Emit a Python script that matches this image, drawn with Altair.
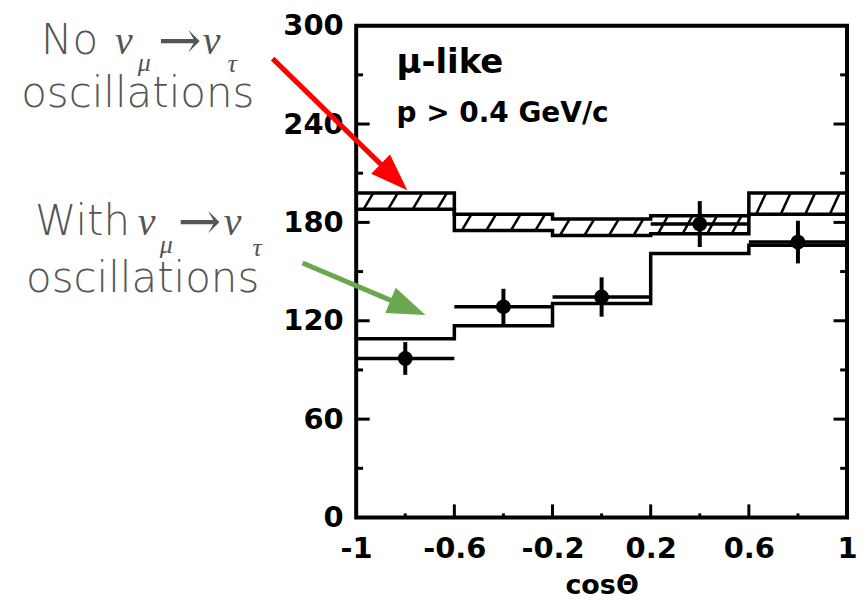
import altair as alt
import pandas as pd

# ---------------- data ----------------
edges = [-1.0, -0.6, -0.2, 0.2, 0.6, 1.0]
centers = [-0.8, -0.4, 0.0, 0.4, 0.8]
no_osc_hi = [198, 185, 182, 184, 198]      # hatched band (no oscillation MC), upper edge
no_osc_lo = [188, 175, 172, 173, 185]      # hatched band, lower edge
with_osc = [109, 117, 130.5, 161, 166]     # MC with nu_mu -> nu_tau oscillations
data_val = [97, 128.5, 134.5, 179, 168]    # measured points
data_err = [10, 11, 12, 14, 13]

x_tick_values = [-1, -0.6, -0.2, 0.2, 0.6, 1]
y_tick_values = [0, 60, 120, 180, 240, 300]
x_major_inner = [-0.6, -0.2, 0.2, 0.6]
x_minor = [-0.8, -0.4, 0.0, 0.4, 0.8]
y_major_inner = [60, 120, 180, 240]
y_minor = [30, 90, 150, 210, 270]

x_title = "cosΘ"
panel_text = ["μ-like", "p > 0.4 GeV/c"]
panel_text_x = [-0.836, -0.836]
panel_text_y = [271.4, 241.0]
panel_text_size = [34, 28]

# annotation (left side) in data coordinates
ann_sans_text = ["No", "oscillations", "With", "oscillations"]
ann_sans_x = [-2.284, -2.365, -2.309, -2.345]
ann_sans_y = [283.0, 250.1, 172.2, 137.5]
ann_sans_size = [42, 42, 42, 42]

ann_greek_text = ["ν", "μ", "ν", "τ", "ν", "μ", "ν", "τ"]
ann_greek_x = [-1.983, -1.890, -1.625, -1.524, -1.890, -1.800, -1.540, -1.422]
ann_greek_y = [283.0, 272.6, 283.0, 272.0, 172.2, 161.2, 172.2, 159.4]
ann_greek_size = [40, 26, 40, 26, 40, 26, 40, 26]

ann_arrow_x = [-1.808, -1.727]
ann_arrow_y = [280.5, 169.8]

# pointer arrows
red_arrow_x = [-1.3405, -0.846]
red_arrow_y = [279.9, 207.6]
green_arrow_x = [-1.2185, -0.789]
green_arrow_y = [155.2, 128.0]
head_angle = [134.35, 112.5]

# ---------------- tables ----------------
step_df = pd.DataFrame({
    "x": edges,
    "hi": no_osc_hi + [no_osc_hi[-1]],
    "lo": no_osc_lo + [no_osc_lo[-1]],
    "osc": with_osc + [with_osc[-1]],
})

hatch_rows = []
for i in range(5):
    for off in [0.03, 0.13, 0.23, 0.33]:
        hatch_rows.append({"x": edges[i] + off, "x2": edges[i] + off + 0.04,
                           "y": no_osc_lo[i], "y2": no_osc_hi[i]})
hatch_df = pd.DataFrame(hatch_rows)

pts_df = pd.DataFrame({
    "c": centers,
    "v": data_val,
    "lo": [v - e for v, e in zip(data_val, data_err)],
    "hi": [v + e for v, e in zip(data_val, data_err)],
    "left": edges[:-1],
    "right": edges[1:],
})

xs = alt.Scale(domain=[-1, 1], nice=False, zero=False)
ys = alt.Scale(domain=[0, 300], nice=False, zero=False)

x_axis = alt.Axis(
    values=x_tick_values, ticks=False, domain=False, grid=False,
    labelExpr="replace(format(datum.value, '.1~f'), '\u2212', '-')",
    labelFont="DejaVu Sans", labelFontWeight="bold", labelFontSize=29,
    labelColor="black", labelPadding=17, labelFlush=False,
    title=x_title, titleFont="DejaVu Sans", titleFontWeight="bold",
    titleFontSize=27, titleColor="black", titlePadding=9,
)
y_axis = alt.Axis(
    values=y_tick_values, ticks=False, domain=False, grid=False,
    labelFont="DejaVu Sans", labelFontWeight="bold", labelFontSize=29,
    labelColor="black", labelPadding=13, title=None,
)


def X(field):
    return alt.X(field, scale=xs, axis=x_axis)


def Y(field):
    return alt.Y(field, scale=ys, axis=y_axis)


LW = 3.5

band_hi = alt.Chart(step_df).mark_line(interpolate="step-after", color="black", strokeWidth=LW).encode(
    x=X("x:Q"), y=Y("hi:Q"))
band_lo = alt.Chart(step_df).mark_line(interpolate="step-after", color="black", strokeWidth=LW).encode(
    x=X("x:Q"), y=Y("lo:Q"))
osc_line = alt.Chart(step_df).mark_line(interpolate="step-after", color="black", strokeWidth=LW).encode(
    x=X("x:Q"), y=Y("osc:Q"))

hatch = alt.Chart(hatch_df).mark_rule(color="black", strokeWidth=2.5).encode(
    x=X("x:Q"), x2="x2:Q", y=Y("y:Q"), y2="y2:Q")

hbar = alt.Chart(pts_df).mark_rule(color="black", strokeWidth=3.5).encode(
    x=X("left:Q"), x2="right:Q", y=Y("v:Q"))
vbar = alt.Chart(pts_df).mark_rule(color="black", strokeWidth=4).encode(
    x=X("c:Q"), y=Y("lo:Q"), y2="hi:Q")
dots = alt.Chart(pts_df).mark_circle(color="black", size=220, opacity=1).encode(
    x=X("c:Q"), y=Y("v:Q"))

# inward ticks
tick_rows = []
for v in y_major_inner:
    tick_rows.append({"x": -1, "x2": -1 + 0.055, "y": v, "y2": v})
    tick_rows.append({"x": 1, "x2": 1 - 0.055, "y": v, "y2": v})
for v in y_minor:
    tick_rows.append({"x": -1, "x2": -1 + 0.028, "y": v, "y2": v})
    tick_rows.append({"x": 1, "x2": 1 - 0.028, "y": v, "y2": v})
for v in x_major_inner:
    tick_rows.append({"x": v, "x2": v, "y": 0, "y2": 8})
for v in x_minor:
    tick_rows.append({"x": v, "x2": v, "y": 0, "y2": 2.5})
ticks_df = pd.DataFrame(tick_rows)
ticks = alt.Chart(ticks_df).mark_rule(color="black", strokeWidth=3).encode(
    x=X("x:Q"), x2="x2:Q", y=Y("y:Q"), y2="y2:Q")

panel_df = pd.DataFrame({"t": panel_text, "x": panel_text_x, "y": panel_text_y, "s": panel_text_size})
panel = alt.Chart(panel_df).mark_text(
    font="DejaVu Sans", fontWeight="bold", align="left", baseline="alphabetic", color="black"
).encode(x=X("x:Q"), y=Y("y:Q"), text="t:N", size=alt.Size("s:Q", scale=None, legend=None))

sans_df = pd.DataFrame({"t": ann_sans_text, "x": ann_sans_x, "y": ann_sans_y, "s": ann_sans_size})
sans = alt.Chart(sans_df).mark_text(
    font="DejaVu Sans", fontWeight=200, align="left", baseline="alphabetic", color="#555555"
).encode(x=X("x:Q"), y=Y("y:Q"), text="t:N", size=alt.Size("s:Q", scale=None, legend=None))

greek_df = pd.DataFrame({"t": ann_greek_text, "x": ann_greek_x, "y": ann_greek_y, "s": ann_greek_size})
greek = alt.Chart(greek_df).mark_text(
    font="Liberation Serif", fontStyle="italic", align="left", baseline="alphabetic", color="#555555"
).encode(x=X("x:Q"), y=Y("y:Q"), text="t:N", size=alt.Size("s:Q", scale=None, legend=None))

arr_df = pd.DataFrame({"t": ["→", "→"], "x": ann_arrow_x, "y": ann_arrow_y})
arrows_txt = alt.Chart(arr_df).mark_text(
    font="DejaVu Serif", fontSize=52, align="left", baseline="alphabetic", color="#555555"
).encode(x=X("x:Q"), y=Y("y:Q"), text="t:N")

red_df = pd.DataFrame({"x": red_arrow_x, "y": red_arrow_y})
green_df = pd.DataFrame({"x": green_arrow_x, "y": green_arrow_y})
red_line = alt.Chart(red_df).mark_line(color="#ff0000", strokeWidth=5).encode(x=X("x:Q"), y=Y("y:Q"))
green_line = alt.Chart(green_df).mark_line(color="#6aa84f", strokeWidth=5).encode(x=X("x:Q"), y=Y("y:Q"))

head_path = "M0,-1L0.72,1L-0.72,1Z"
red_head = alt.Chart(red_df.tail(1)).mark_point(
    shape=head_path, filled=True, color="#ff0000", size=1406, opacity=1, strokeWidth=0, angle=head_angle[0]
).encode(x=X("x:Q"), y=Y("y:Q"))
green_head = alt.Chart(green_df.tail(1)).mark_point(
    shape=head_path, filled=True, color="#6aa84f", size=1436, opacity=1, strokeWidth=0, angle=head_angle[1]
).encode(x=X("x:Q"), y=Y("y:Q"))

chart = alt.layer(
    band_hi, band_lo, hatch, osc_line, hbar, vbar, dots, ticks, panel,
    sans, greek, arrows_txt, red_line, red_head, green_line, green_head,
).properties(
    width=492, height=493,
    autosize=alt.AutoSizeParams(type="none"),
    padding={"left": 349, "top": 17, "right": 10, "bottom": 84},
).configure_view(stroke="black", strokeWidth=4)

chart.save("out.html", embed_options={"renderer": "svg", "actions": False})
